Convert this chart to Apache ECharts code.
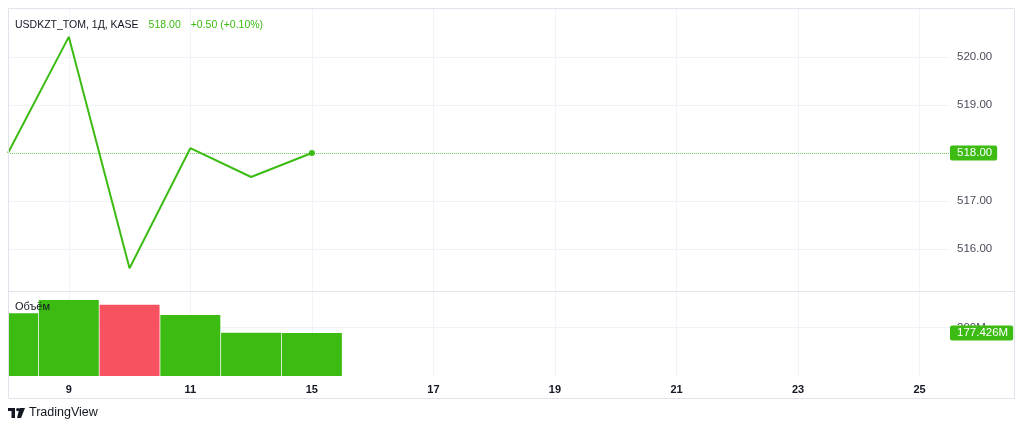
<!DOCTYPE html>
<html>
<head>
<meta charset="utf-8">
<script src="https://cdn.jsdelivr.net/npm/echarts@6/dist/echarts.min.js"></script>
<style>
html,body{margin:0;padding:0;background:#fff;}
#c{width:1024px;height:429px;}
</style>
</head>
<body>
<div id="c"></div>
<script>
// ---- data ----
var slotLabels = ['8','9','10','11','12','15','16','17','18','19','20','21','22','23','24','25'];
var days = ['8','9','10','11','12','15'];
var closes = [518.00, 520.42, 515.60, 518.10, 517.50, 518.00];
var volumes = [258.7e6, 313.6e6, 294.0e6, 251.7e6, 178.0e6, 177.426e6];
var volumeUp = [true, true, false, true, true, true];
var priceTicks = [516, 517, 518, 519, 520];
var volumeTicks = [200e6];
var dateTickSlots = [1, 3, 5, 7, 9, 11, 13, 15];
var lastPrice = 518.00;
var lastVolume = 177.426e6;
var titleText = 'USDKZT_TOM, 1Д, KASE';
var titlePrice = '518.00';
var titleChange = '+0.50 (+0.10%)';
var volumeTitle = 'Объём';

var GREEN = '#3cbc13', RED = '#f7525f', GRID = '#f0f3fa', BORDER = '#e0e3eb', TXT = '#131722', AX = '#4a4e59';
var FONT = '"Liberation Sans", Arial, sans-serif';

var lineData = days.map(function (d, i) {
  var x = slotLabels.indexOf(d);
  if (i === days.length - 1) return { value: [x, closes[i]], symbol: 'circle', symbolSize: 6 };
  return [x, closes[i]];
});
var volData = days.map(function (d, i) {
  return { value: [slotLabels.indexOf(d), volumes[i]], itemStyle: { color: volumeUp[i] ? GREEN : RED } };
});

function fmtVol(v) { return (v / 1e6).toFixed(v % 1e6 === 0 ? 0 : 3) + 'M'; }

var chart = echarts.init(document.getElementById('c'), null, { renderer: 'canvas' });
chart.setOption({
  animation: false,
  backgroundColor: '#fff',
  textStyle: { fontFamily: FONT },
  title: {
    left: 15, top: 16, padding: 0,
    text: '{a|' + titleText + '}  {g|' + titlePrice + '}  {g|' + titleChange + '}',
    textStyle: {
      fontWeight: 'normal',
      rich: {
        a: { fontSize: 10.5, color: TXT, fontFamily: FONT, fontWeight: 'normal' },
        g: { fontSize: 10.5, color: GREEN, fontFamily: FONT, fontWeight: 'normal' }
      }
    }
  },
  grid: [
    { left: 8, right: 74, top: 8, height: 283, containLabel: false },
    { left: 8, right: 74, top: 291, height: 85, containLabel: false }
  ],
  xAxis: [
    { type: 'value', gridIndex: 0, min: 0, max: 15.5,
      axisLine: { show: false }, axisTick: { show: false, customValues: dateTickSlots },
      axisLabel: { show: false, customValues: dateTickSlots },
      splitLine: { show: true, lineStyle: { color: GRID, width: 1 } } },
    { type: 'value', gridIndex: 1, min: 0, max: 15.5,
      axisLine: { show: false }, axisTick: { show: false, customValues: dateTickSlots },
      axisLabel: { show: true, customValues: dateTickSlots, margin: 8, fontSize: 11, fontWeight: 'bold', color: TXT,
        formatter: function (v) { return slotLabels[Math.round(v)] || ''; } },
      splitLine: { show: true, lineStyle: { color: GRID, width: 1 } } }
  ],
  yAxis: [
    { type: 'value', gridIndex: 0, position: 'right', min: 515.125, max: 521.021, scale: true,
      axisLine: { show: false }, axisTick: { show: false, customValues: priceTicks },
      axisLabel: { customValues: priceTicks, margin: 7, fontSize: 11.5, color: AX, align: 'left',
        formatter: function (v) { return v.toFixed(2); } },
      splitLine: { show: true, lineStyle: { color: GRID, width: 1 } } },
    { type: 'value', gridIndex: 1, position: 'right', min: 0, max: 350.7e6,
      axisLine: { show: false }, axisTick: { show: false, customValues: volumeTicks },
      axisLabel: { customValues: volumeTicks, margin: 7, fontSize: 11.5, color: AX, align: 'left', formatter: fmtVol },
      splitLine: { show: true, lineStyle: { color: GRID, width: 1 } } }
  ],
  series: [
    { type: 'line', xAxisIndex: 0, yAxisIndex: 0, data: lineData, symbol: 'none',
      lineStyle: { color: GREEN, width: 2 }, itemStyle: { color: GREEN }, z: 5,
      markLine: { silent: true, symbol: 'none',
        lineStyle: { color: '#7fd363', type: [1, 1], width: 1 },
        label: { show: true, position: 'end', distance: 0, formatter: function () { return lastPrice.toFixed(2); },
          color: '#fff', backgroundColor: GREEN, fontSize: 11.5, fontFamily: FONT, padding: [2, 5, 1, 7], borderRadius: 2 },
        data: [{ yAxis: lastPrice }] } },
    { type: 'bar', xAxisIndex: 1, yAxisIndex: 1, data: volData, barWidth: 60, clip: true, z: 3,
      markLine: { silent: true, symbol: 'none', lineStyle: { color: 'rgba(0,0,0,0)', width: 1 },
        label: { show: true, position: 'end', distance: 0, formatter: function () { return fmtVol(lastVolume); },
          color: '#fff', backgroundColor: GREEN, fontSize: 11.5, fontFamily: FONT, padding: [2, 5, 1, 7], borderRadius: 2 },
        data: [{ yAxis: lastVolume }] } }
  ],
  graphic: [
    { type: 'rect', shape: { x: 0, y: 280, width: 8, height: 110 }, style: { fill: '#fff' }, silent: true, z: 9 },
    { type: 'rect', shape: { x: 8.5, y: 8.5, width: 1006, height: 390 }, style: { fill: 'none', stroke: BORDER, lineWidth: 1 }, silent: true, z: 10 },
    { type: 'line', shape: { x1: 8, y1: 291.5, x2: 1015, y2: 291.5 }, style: { stroke: BORDER, lineWidth: 1 }, silent: true, z: 10 },
    { type: 'text', left: 15, top: 301, style: { text: volumeTitle, fontSize: 11, fill: TXT, font: '11px ' + FONT }, z: 20 },
    { type: 'rect', shape: { x: 8, y: 408, width: 7, height: 3 }, style: { fill: TXT } },
    { type: 'rect', shape: { x: 11.5, y: 408, width: 3.5, height: 10 }, style: { fill: TXT } },
    { type: 'circle', shape: { cx: 17.8, cy: 409.6, r: 1.7 }, style: { fill: TXT } },
    { type: 'polygon', shape: { points: [[19.5, 408], [25, 408], [21, 418], [17, 418]] }, style: { fill: TXT } },
    { type: 'text', left: 29, top: 406, style: { text: 'TradingView', font: '500 12.5px ' + FONT, fill: TXT } }
  ]
});
</script>
</body>
</html>
